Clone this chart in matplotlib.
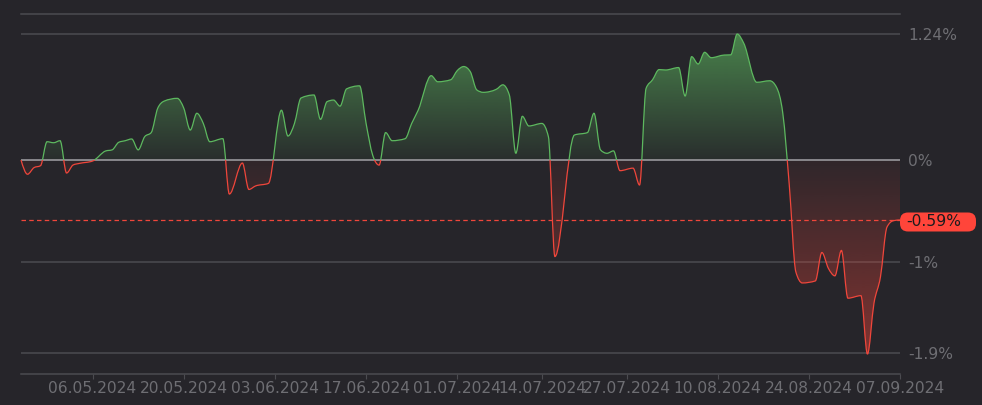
"""
Portfolio return chart: smoothed line, green above zero, red below.
"""

import datetime as dt

import matplotlib

matplotlib.use("Agg")
import matplotlib.dates as mdates
import matplotlib.pyplot as plt
import numpy as np
from matplotlib.patches import FancyBboxPatch, PathPatch, Rectangle
from matplotlib.path import Path
from matplotlib.transforms import IdentityTransform

# --- data -----------------------------------------------------------------
dates = [
    "2024-04-25", "2024-04-26", "2024-04-27", "2024-04-28", "2024-04-29",
    "2024-04-30", "2024-05-01", "2024-05-02", "2024-05-03", "2024-05-04",
    "2024-05-06", "2024-05-08", "2024-05-09", "2024-05-10", "2024-05-11",
    "2024-05-12", "2024-05-13", "2024-05-14", "2024-05-15", "2024-05-16",
    "2024-05-17", "2024-05-19", "2024-05-20", "2024-05-21", "2024-05-22",
    "2024-05-23", "2024-05-24", "2024-05-26", "2024-05-27", "2024-05-29",
    "2024-05-30", "2024-05-31", "2024-06-02", "2024-06-04", "2024-06-05",
    "2024-06-06", "2024-06-07", "2024-06-09", "2024-06-10", "2024-06-11",
    "2024-06-12", "2024-06-13", "2024-06-14", "2024-06-16", "2024-06-17",
    "2024-06-18", "2024-06-19", "2024-06-20", "2024-06-21", "2024-06-23",
    "2024-06-24", "2024-06-25", "2024-06-27", "2024-06-28", "2024-06-30",
    "2024-07-01", "2024-07-02", "2024-07-03", "2024-07-04", "2024-07-05",
    "2024-07-07", "2024-07-08", "2024-07-09", "2024-07-10", "2024-07-11",
    "2024-07-12", "2024-07-14", "2024-07-15", "2024-07-16", "2024-07-19",
    "2024-07-21", "2024-07-22", "2024-07-23", "2024-07-24", "2024-07-25",
    "2024-07-26", "2024-07-28", "2024-07-29", "2024-07-30", "2024-07-31",
    "2024-08-01", "2024-08-02", "2024-08-04", "2024-08-05", "2024-08-06",
    "2024-08-07", "2024-08-08", "2024-08-09", "2024-08-11", "2024-08-12",
    "2024-08-13", "2024-08-14", "2024-08-16", "2024-08-18", "2024-08-19",
    "2024-08-20", "2024-08-21", "2024-08-22", "2024-08-23", "2024-08-25",
    "2024-08-26", "2024-08-27", "2024-08-28", "2024-08-29", "2024-08-30",
    "2024-09-01", "2024-09-02", "2024-09-03", "2024-09-04", "2024-09-05",
    "2024-09-06", "2024-09-07",
]
values = [
    0.0, -0.14, -0.075, -0.056, 0.18,
    0.17, 0.19, -0.128, -0.049, -0.033,
    -0.01, 0.089, 0.10, 0.174, 0.19,
    0.207, 0.10, 0.23, 0.27, 0.51,
    0.58, 0.607, 0.51, 0.295, 0.46,
    0.36, 0.18, 0.21, -0.335, -0.03,
    -0.29, -0.256, -0.23, 0.49, 0.236,
    0.36, 0.61, 0.64, 0.40, 0.574,
    0.59, 0.53, 0.70, 0.73, 0.36,
    0.05, -0.05, 0.27, 0.19, 0.21,
    0.36, 0.49, 0.83, 0.77, 0.79,
    0.88, 0.92, 0.87, 0.69, 0.666,
    0.696, 0.74, 0.64, 0.066, 0.43,
    0.335, 0.36, 0.23, -0.95, 0.246,
    0.27, 0.46, 0.10, 0.066, 0.09,
    -0.105, -0.08, -0.246, 0.705, 0.79,
    0.89, 0.886, 0.91, 0.63, 1.017,
    0.945, 1.06, 1.007, 1.033, 1.035,
    1.24, 1.15, 0.765, 0.78, 0.72,
    0.46, -0.25, -1.10, -1.21, -1.19,
    -0.91, -1.066, -1.14, -0.89, -1.36,
    -1.335, -1.91, -1.41, -1.15, -0.66,
    -0.597, -0.59,
]
tick_dates = [
    "2024-05-06", "2024-05-20", "2024-06-03", "2024-06-17", "2024-07-01",
    "2024-07-14", "2024-07-27", "2024-08-10", "2024-08-24", "2024-09-07",
]
tick_labels = [
    "06.05.2024", "20.05.2024", "03.06.2024", "17.06.2024", "01.07.2024",
    "14.07.2024", "27.07.2024", "10.08.2024", "24.08.2024", "07.09.2024",
]
y_ticks = [1.24, 0.0, -1.0, -1.9]
y_tick_labels = ["1.24%", "0%", "-1%", "-1.9%"]
current_value = -0.59
current_label = "-0.59%"

# --- style ----------------------------------------------------------------
BG = "#26252a"
GRID = "#4b4b50"
ZERO = "#a2a2a6"
TEXT = "#6e6e73"
GREEN = "#5db85f"
RED = "#f0463b"
W, H = 982, 405


def to_num(d: str) -> float:
    return mdates.date2num(dt.datetime.strptime(d, "%Y-%m-%d"))


def monotone_path(x: np.ndarray, y: np.ndarray) -> tuple[list, list]:
    """
    Bezier path through the points with monotone-x tangents.
    """
    n = len(x)
    h = np.diff(x)
    s = np.diff(y) / h
    t = np.zeros(n)
    for i in range(1, n - 1):
        p = (s[i - 1] * h[i] + s[i] * h[i - 1]) / (h[i - 1] + h[i])
        t[i] = (np.sign(s[i - 1]) + np.sign(s[i])) * min(
            abs(s[i - 1]), abs(s[i]), 0.5 * abs(p)
        )
    t[0] = (3 * s[0] - t[1]) / 2
    t[-1] = (3 * s[-1] - t[-2]) / 2

    verts = [(x[0], y[0])]
    codes = [Path.MOVETO]
    for i in range(n - 1):
        dx = h[i] / 3
        verts += [
            (x[i] + dx, y[i] + dx * t[i]),
            (x[i + 1] - dx, y[i + 1] - dx * t[i + 1]),
            (x[i + 1], y[i + 1]),
        ]
        codes += [Path.CURVE4] * 3
    return verts, codes


x = np.array([to_num(d) for d in dates])
y = np.array(values)
y_min, y_max = -2.106, 1.437

fig = plt.figure(figsize=(W / 100, H / 100), dpi=100, facecolor=BG)
ax = fig.add_axes([21 / W, 31 / H, 879 / W, 360 / H])
ax.set_facecolor(BG)
ax.set_xlim(x[0], x[-1])
ax.set_ylim(y_min, y_max)

# grid lines
for v in y_ticks:
    if v != 0:
        ax.axhline(v, color=GRID, lw=1.1, zorder=1)
ax.axhline(0, color=ZERO, lw=1.1, zorder=3)

verts, codes = monotone_path(x, y)

# gradient fill under the curve
fill_path = Path(
    verts + [(x[-1], 0), (x[0], 0), (x[0], 0)],
    codes + [Path.LINETO, Path.LINETO, Path.CLOSEPOLY],
)
fill_patch = PathPatch(fill_path, transform=ax.transData, facecolor="none", edgecolor="none")
ax.add_patch(fill_patch)

ys = np.linspace(y_min, y_max, 600)
grad = np.zeros((len(ys), 1, 4))
green_rgb = np.array(matplotlib.colors.to_rgb(GREEN))
red_rgb = np.array(matplotlib.colors.to_rgb(RED))
pos = ys >= 0
grad[pos, 0, :3] = green_rgb
grad[pos, 0, 3] = 0.06 + 0.58 * np.clip(ys[pos] / y.max(), 0, 1)
grad[~pos, 0, :3] = red_rgb
grad[~pos, 0, 3] = 0.05 + 0.40 * np.clip(ys[~pos] / y.min(), 0, 1)
im = ax.imshow(
    grad,
    extent=[x[0], x[-1], y_min, y_max],
    origin="lower",
    aspect="auto",
    interpolation="bilinear",
    zorder=2,
)
im.set_clip_path(fill_patch)

# current value dashed line
ax.axhline(current_value, color=RED, lw=0.9, dashes=(3.6, 2.6), zorder=3)

# line, green above zero and red below
span = x[-1] - x[0]
above = Rectangle((x[0] - span, 0), 3 * span, 10, transform=ax.transData)
below = Rectangle((x[0] - span, -10), 3 * span, 10, transform=ax.transData)
for color, clip in ((GREEN, above), (RED, below)):
    line = PathPatch(Path(verts, codes), facecolor="none", edgecolor=color, lw=0.9, zorder=4)
    ax.add_patch(line)
    line.set_clip_path(clip)

# axes decoration
for side in ("left", "right"):
    ax.spines[side].set_visible(False)
for side in ("top", "bottom"):
    ax.spines[side].set_color(GRID)
    ax.spines[side].set_linewidth(1.1)

ax.set_xticks([to_num(d) for d in tick_dates])
ax.set_xticklabels(tick_labels)
ax.tick_params(axis="x", colors=GRID, length=3.6, width=0.8, pad=1.5, labelsize=11.2, labelcolor=TEXT)

ax.yaxis.tick_right()
ax.set_yticks(y_ticks)
ax.set_yticklabels(y_tick_labels)
ax.tick_params(axis="y", length=0, pad=5.8, labelsize=11.2, labelcolor=TEXT)

# badge with the current value
badge = FancyBboxPatch(
    (900, H - 231.5), 76, 19,
    boxstyle="round,pad=0,rounding_size=8",
    transform=IdentityTransform(),
    facecolor="#ff453a", edgecolor="none",
)
fig.add_artist(badge)
fig.text(906 / W, (H - 221.5) / H, current_label, ha="left", va="center",
         fontsize=11.2, color="#1c1c1e")

fig.savefig("out.png", dpi=100, facecolor=BG)
